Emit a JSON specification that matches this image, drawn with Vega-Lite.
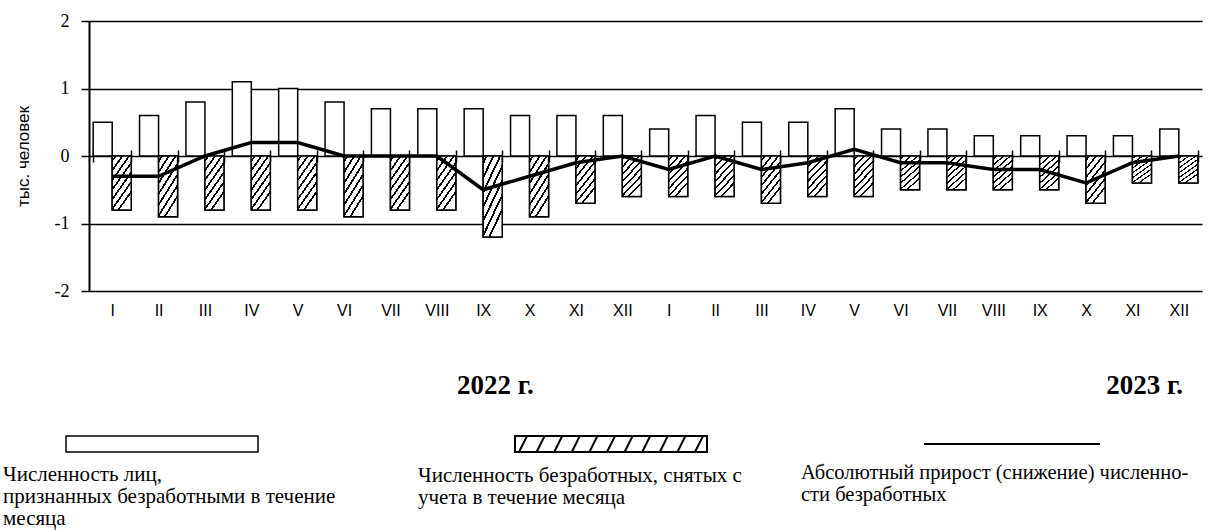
{
  "$schema": "https://vega.github.io/schema/vega-lite/v6.json",
  "width": 1113,
  "height": 270,
  "autosize": {"type": "none"},
  "padding": {"left": 89, "top": 21, "right": 7, "bottom": 239},
  "background": "white",
  "config": {"view": {"stroke": null}},
  "datasets": {
    "main": [
      {"k": "2022-I", "rec": 0.5, "rem": -0.8, "chg": -0.3},
      {"k": "2022-II", "rec": 0.6, "rem": -0.9, "chg": -0.3},
      {"k": "2022-III", "rec": 0.8, "rem": -0.8, "chg": 0.0},
      {"k": "2022-IV", "rec": 1.1, "rem": -0.8, "chg": 0.2},
      {"k": "2022-V", "rec": 1.0, "rem": -0.8, "chg": 0.2},
      {"k": "2022-VI", "rec": 0.8, "rem": -0.9, "chg": 0.0},
      {"k": "2022-VII", "rec": 0.7, "rem": -0.8, "chg": 0.0},
      {"k": "2022-VIII", "rec": 0.7, "rem": -0.8, "chg": 0.0},
      {"k": "2022-IX", "rec": 0.7, "rem": -1.2, "chg": -0.5},
      {"k": "2022-X", "rec": 0.6, "rem": -0.9, "chg": -0.3},
      {"k": "2022-XI", "rec": 0.6, "rem": -0.7, "chg": -0.1},
      {"k": "2022-XII", "rec": 0.6, "rem": -0.6, "chg": 0.0},
      {"k": "2023-I", "rec": 0.4, "rem": -0.6, "chg": -0.2},
      {"k": "2023-II", "rec": 0.6, "rem": -0.6, "chg": 0.0},
      {"k": "2023-III", "rec": 0.5, "rem": -0.7, "chg": -0.2},
      {"k": "2023-IV", "rec": 0.5, "rem": -0.6, "chg": -0.1},
      {"k": "2023-V", "rec": 0.7, "rem": -0.6, "chg": 0.1},
      {"k": "2023-VI", "rec": 0.4, "rem": -0.5, "chg": -0.1},
      {"k": "2023-VII", "rec": 0.4, "rem": -0.5, "chg": -0.1},
      {"k": "2023-VIII", "rec": 0.3, "rem": -0.5, "chg": -0.2},
      {"k": "2023-IX", "rec": 0.3, "rem": -0.5, "chg": -0.2},
      {"k": "2023-X", "rec": 0.3, "rem": -0.7, "chg": -0.4},
      {"k": "2023-XI", "rec": 0.3, "rem": -0.4, "chg": -0.1},
      {"k": "2023-XII", "rec": 0.4, "rem": -0.4, "chg": 0.0}
    ],
    "years": [
      {"k": "2022-X", "t": "2022 г."},
      {"k": "2023-XII", "t": "2023 г."}
    ]
  },
  "layer": [
    {
      "data": {"name": "main"},
      "mark": {"type": "bar", "stroke": "black", "strokeWidth": 1.5},
      "encoding": {
        "x": {
          "field": "k", "type": "nominal", "sort": null,
          "scale": {
            "domain": ["2022-I","2022-II","2022-III","2022-IV","2022-V","2022-VI","2022-VII","2022-VIII","2022-IX","2022-X","2022-XI","2022-XII","2023-I","2023-II","2023-III","2023-IV","2023-V","2023-VI","2023-VII","2023-VIII","2023-IX","2023-X","2023-XI","2023-XII"],
            "paddingInner": 0.18, "paddingOuter": 0.09
          },
          "axis": {
            "title": null, "orient": "bottom", "offset": -141, "domain": false, "grid": false,
            "tickBand": "extent", "tickSize": 12, "tickWidth": 1.5, "tickColor": "black",
            "labelExpr": "split(datum.value, '-')[1]", "labelAngle": 0,
            "labelFont": "Liberation Sans", "labelFontSize": 16, "labelColor": "black", "labelPadding": 140
          }
        },
        "xOffset": {"datum": "rec", "scale": {"domain": ["rec", "rem"], "paddingInner": 0, "paddingOuter": 0}},
        "y": {
          "field": "rec", "type": "quantitative",
          "scale": {"domain": [-2, 2], "nice": false, "zero": false},
          "axis": {
            "title": "тыс. человек", "values": [-2, -1, 0, 1, 2],
            "grid": true, "gridColor": "black", "gridWidth": 1.5, "gridOpacity": 1,
            "domain": true, "domainColor": "black", "domainWidth": 2,
            "ticks": true, "tickSize": 8, "tickColor": "black", "tickWidth": 1.5,
            "labelExpr": "'' + datum.value",
            "labelFont": "Liberation Serif", "labelFontSize": 18, "labelColor": "black", "labelPadding": 12,
            "titleFont": "Liberation Sans", "titleFontSize": 17, "titleFontWeight": "normal", "titleColor": "black", "titlePadding": 22
          }
        },
        "fill": {
          "datum": "Численность лиц, признанных безработными в течение месяца",
          "scale": {"range": ["white"]},
          "legend": {
            "orient": "none", "legendX": -86, "legendY": 414, "padding": 0,
            "title": ["Численность лиц,", "признанных безработными в течение", "месяца"],
            "titleOrient": "bottom", "titleAnchor": "start", "titleFont": "Liberation Serif", "titleFontSize": 21,
            "titleFontWeight": "normal", "titleColor": "black", "titleLineHeight": 22, "titleLimit": 1000, "titlePadding": 9,
            "labelExpr": "''", "symbolType": "M-12,-1H12V1H-12Z", "symbolSize": 256,
            "symbolStrokeColor": "black", "symbolStrokeWidth": 1.5, "symbolOffset": 150,
            "encode": {"symbols": {"update": {"stroke": {"value": "black"}, "strokeWidth": {"value": 1.5}}}}
          }
        }
      }
    },
    {
      "data": {"name": "main"},
      "mark": {"type": "bar", "fill": "white", "strokeWidth": 1.5},
      "encoding": {
        "x": {"field": "k", "type": "nominal", "sort": null},
        "xOffset": {"datum": "rem"},
        "y": {"field": "rem", "type": "quantitative"},
        "stroke": {
          "datum": "Численность безработных, снятых с учета в течение месяца",
          "scale": {"range": ["black"]},
          "legend": {
            "orient": "none", "legendX": 329, "legendY": 414, "padding": 0,
            "title": ["Численность безработных, снятых с", "учета в течение месяца"],
            "titleOrient": "bottom", "titleAnchor": "start", "titleFont": "Liberation Serif", "titleFontSize": 21,
            "titleFontWeight": "normal", "titleColor": "black", "titleLineHeight": 22, "titleLimit": 1000, "titlePadding": 9,
            "labelExpr": "''",
            "symbolType": "M-12,-1H12V1H-12Z M-11.5,1L-10.5,-1 M-9.3,1L-8.3,-1 M-7.1,1L-6.1,-1 M-4.9,1L-3.9,-1 M-2.7,1L-1.7,-1 M-0.5,1L0.5,-1 M1.7,1L2.7,-1 M3.9,1L4.9,-1 M6.1,1L7.1,-1 M8.3,1L9.3,-1 M10.5,1L11.5,-1",
            "symbolSize": 256, "symbolStrokeColor": "black", "symbolStrokeWidth": 2, "symbolFillColor": "white", "symbolOffset": 184,
            "encode": {"symbols": {"update": {"stroke": {"value": "black"}, "strokeWidth": {"value": 2}, "fill": {"value": "white"}}}}
          }
        }
      }
    },
    {
      "data": {"name": "main"},
      "mark": {"type": "bar", "stroke": "black", "strokeWidth": 1.5, "fill": {"gradient": "linear", "x1": 0, "y1": 0, "x2": 0.5, "y2": 1, "stops": [
            {"offset": 0, "color": "white"}, {"offset": 0.05, "color": "white"}, {"offset": 0.05, "color": "black"}, {"offset": 0.0929, "color": "black"},
            {"offset": 0.0929, "color": "white"}, {"offset": 0.1929, "color": "white"}, {"offset": 0.1929, "color": "black"}, {"offset": 0.2357, "color": "black"},
            {"offset": 0.2357, "color": "white"}, {"offset": 0.3357, "color": "white"}, {"offset": 0.3357, "color": "black"}, {"offset": 0.3786, "color": "black"},
            {"offset": 0.3786, "color": "white"}, {"offset": 0.4786, "color": "white"}, {"offset": 0.4786, "color": "black"}, {"offset": 0.5214, "color": "black"},
            {"offset": 0.5214, "color": "white"}, {"offset": 0.6214, "color": "white"}, {"offset": 0.6214, "color": "black"}, {"offset": 0.6643, "color": "black"},
            {"offset": 0.6643, "color": "white"}, {"offset": 0.7643, "color": "white"}, {"offset": 0.7643, "color": "black"}, {"offset": 0.8071, "color": "black"},
            {"offset": 0.8071, "color": "white"}, {"offset": 0.9071, "color": "white"}, {"offset": 0.9071, "color": "black"}, {"offset": 0.95, "color": "black"},
            {"offset": 0.95, "color": "white"}, {"offset": 1, "color": "white"}
          ]}},
      "encoding": {
        "x": {"field": "k", "type": "nominal", "sort": null},
        "xOffset": {"datum": "rem"},
        "y": {"field": "rem", "type": "quantitative"}
      }
    },
    {
      "data": {"name": "main"},
      "mark": {"type": "line", "strokeWidth": 3.5},
      "encoding": {
        "x": {"field": "k", "type": "nominal", "sort": null},
        "y": {"field": "chg", "type": "quantitative"},
        "stroke": {
          "datum": "Абсолютный прирост (снижение) численности безработных",
          "scale": {"range": ["black"]},
          "legend": {
            "orient": "none", "legendX": 712, "legendY": 414, "padding": 0,
            "title": ["Абсолютный прирост (снижение) численно-", "сти безработных"],
            "titleOrient": "bottom", "titleAnchor": "start", "titleFont": "Liberation Serif", "titleFontSize": 20.5,
            "titleFontWeight": "normal", "titleColor": "black", "titleLineHeight": 22, "titleLimit": 1000, "titlePadding": 14,
            "labelExpr": "''", "symbolType": "M-11,0H11", "symbolSize": 256,
            "symbolStrokeWidth": 2, "symbolOffset": 202,
            "encode": {"symbols": {"update": {"stroke": {"value": "black"}, "strokeWidth": {"value": 2}, "fill": {"value": "transparent"}}}}
          }
        }
      }
    },
    {
      "data": {"name": "years"},
      "mark": {"type": "text", "font": "Liberation Serif", "fontWeight": "bold", "fontSize": 27, "align": "center", "baseline": "middle", "color": "black"},
      "encoding": {
        "x": {"field": "k", "type": "nominal", "sort": null, "bandPosition": -0.4},
        "y": {"datum": -3.4},
        "text": {"field": "t"}
      }
    }
  ],
  "resolve": {"scale": {"stroke": "independent"}}
}
